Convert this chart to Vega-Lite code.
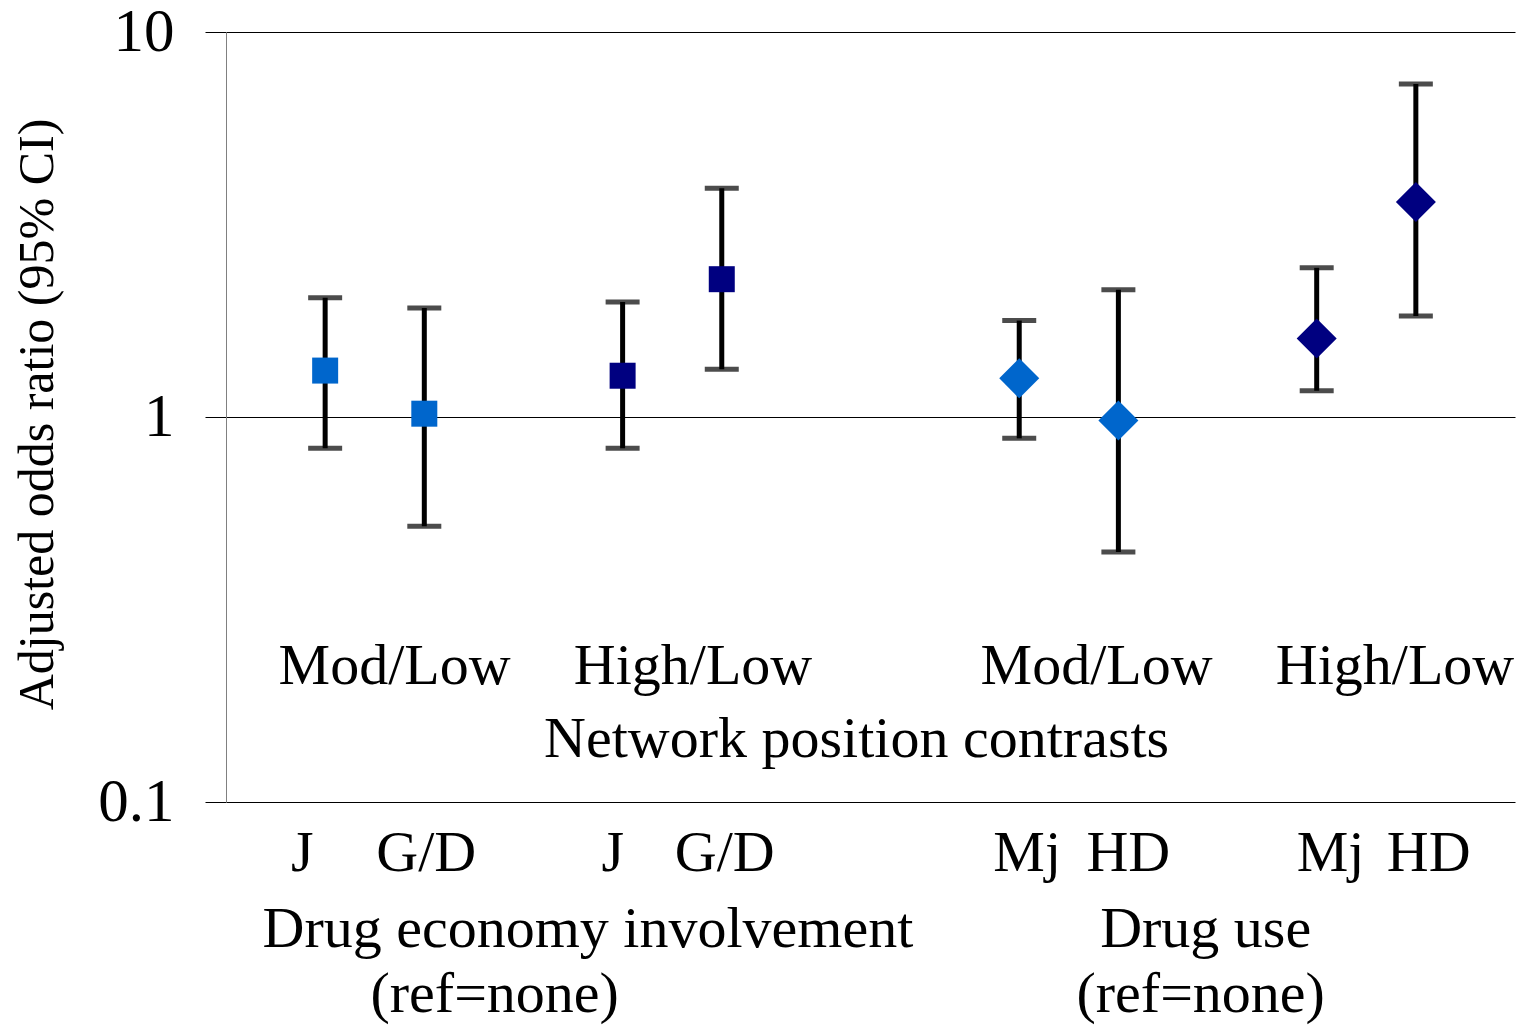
{
  "$schema": "https://vega.github.io/schema/vega-lite/v6.json",
  "width": 1289,
  "height": 770,
  "autosize": {"type": "none"},
  "padding": {"left": 226, "top": 32, "right": 4, "bottom": 233},
  "background": "white",
  "config": {"view": {"stroke": null}, "font": "Liberation Serif"},
  "datasets": {
    "ors": [
      {"outcome": "Drug economy involvement", "category": "J", "contrast": "Mod/Low", "pos": 1, "or": 1.32, "lo": 0.83, "hi": 2.04},
      {"outcome": "Drug economy involvement", "category": "G/D", "contrast": "Mod/Low", "pos": 2, "or": 1.02, "lo": 0.52, "hi": 1.92},
      {"outcome": "Drug economy involvement", "category": "J", "contrast": "High/Low", "pos": 4, "or": 1.28, "lo": 0.83, "hi": 1.99},
      {"outcome": "Drug economy involvement", "category": "G/D", "contrast": "High/Low", "pos": 5, "or": 2.28, "lo": 1.33, "hi": 3.93},
      {"outcome": "Drug use", "category": "Mj", "contrast": "Mod/Low", "pos": 8, "or": 1.26, "lo": 0.88, "hi": 1.78},
      {"outcome": "Drug use", "category": "HD", "contrast": "Mod/Low", "pos": 9, "or": 0.98, "lo": 0.446, "hi": 2.14},
      {"outcome": "Drug use", "category": "Mj", "contrast": "High/Low", "pos": 11, "or": 1.6, "lo": 1.17, "hi": 2.44},
      {"outcome": "Drug use", "category": "HD", "contrast": "High/Low", "pos": 12, "or": 3.62, "lo": 1.83, "hi": 7.33}
    ],
    "labels": [
      {"label": "Mod/Low", "pos": 1.7, "yv": 0.2025},
      {"label": "High/Low", "pos": 4.71, "yv": 0.2025},
      {"label": "Mod/Low", "pos": 8.78, "yv": 0.2025},
      {"label": "High/Low", "pos": 11.79, "yv": 0.2025},
      {"label": "Network position contrasts", "pos": 6.36, "yv": 0.131},
      {"label": "J", "pos": 0.77, "yv": 0.0662},
      {"label": "G/D", "pos": 2.02, "yv": 0.0662},
      {"label": "J", "pos": 3.9, "yv": 0.0662},
      {"label": "G/D", "pos": 5.03, "yv": 0.0662},
      {"label": "Mj", "pos": 8.08, "yv": 0.0662},
      {"label": "HD", "pos": 9.1, "yv": 0.0662},
      {"label": "Mj", "pos": 11.14, "yv": 0.0662},
      {"label": "HD", "pos": 12.13, "yv": 0.0662},
      {"label": "Drug economy involvement", "pos": 3.65, "yv": 0.042},
      {"label": "Drug use", "pos": 9.88, "yv": 0.042},
      {"label": "(ref=none)", "pos": 2.71, "yv": 0.0285},
      {"label": "(ref=none)", "pos": 9.83, "yv": 0.0285}
    ]
  },
  "layer": [
    {
      "data": {"name": "ors"},
      "mark": {"type": "rule", "strokeWidth": 5, "color": "black"},
      "encoding": {
        "x": {"field": "pos", "type": "quantitative", "scale": {"domain": [0, 13], "nice": false, "zero": false}, "axis": null},
        "y": {
          "field": "lo", "type": "quantitative",
          "scale": {"type": "log", "domain": [0.1, 10], "nice": false},
          "axis": {
            "values": [0.1, 1, 10],
            "format": "~g",
            "grid": true, "gridColor": "black", "gridWidth": 1, "gridOpacity": 1,
            "tickColor": "black", "tickSize": 21, "tickWidth": 1,
            "domainColor": "#808080", "domainWidth": 1,
            "labelFont": "Liberation Serif", "labelFontSize": 61, "labelColor": "black", "labelPadding": 31,
            "title": "Adjusted odds ratio (95% CI)",
            "titleFont": "Liberation Serif", "titleFontSize": 50, "titleFontWeight": "normal", "titleColor": "black",
            "titleAngle": -90, "titleX": -174, "titleY": 382, "titleAlign": "center", "titleBaseline": "alphabetic"
          }
        },
        "y2": {"field": "hi"}
      }
    },
    {
      "data": {"name": "ors"},
      "mark": {"type": "tick", "orient": "horizontal", "size": 34, "thickness": 5, "color": "black"},
      "encoding": {
        "x": {"field": "pos", "type": "quantitative"},
        "y": {"field": "lo", "type": "quantitative"}
      }
    },
    {
      "data": {"name": "ors"},
      "mark": {"type": "tick", "orient": "horizontal", "size": 34, "thickness": 5, "color": "black"},
      "encoding": {
        "x": {"field": "pos", "type": "quantitative"},
        "y": {"field": "hi", "type": "quantitative"}
      }
    },
    {
      "data": {"name": "ors"},
      "transform": [{"filter": "datum.outcome === 'Drug economy involvement'"}],
      "mark": {"type": "point", "shape": "square", "filled": true, "opacity": 1, "size": 676},
      "encoding": {
        "x": {"field": "pos", "type": "quantitative"},
        "y": {"field": "or", "type": "quantitative"},
        "color": {"field": "contrast", "type": "nominal", "scale": {"domain": ["Mod/Low", "High/Low"], "range": ["#0066CC", "#000080"]}, "legend": null}
      }
    },
    {
      "data": {"name": "ors"},
      "transform": [{"filter": "datum.outcome === 'Drug use'"}],
      "mark": {"type": "point", "shape": "diamond", "filled": true, "opacity": 1, "size": 1600},
      "encoding": {
        "x": {"field": "pos", "type": "quantitative"},
        "y": {"field": "or", "type": "quantitative"},
        "color": {"field": "contrast", "type": "nominal", "legend": null}
      }
    },
    {
      "data": {"name": "labels"},
      "mark": {"type": "text", "font": "Liberation Serif", "fontSize": 58, "align": "center", "baseline": "alphabetic", "color": "black"},
      "encoding": {
        "x": {"field": "pos", "type": "quantitative"},
        "y": {"field": "yv", "type": "quantitative"},
        "text": {"field": "label", "type": "nominal"}
      }
    }
  ]
}
